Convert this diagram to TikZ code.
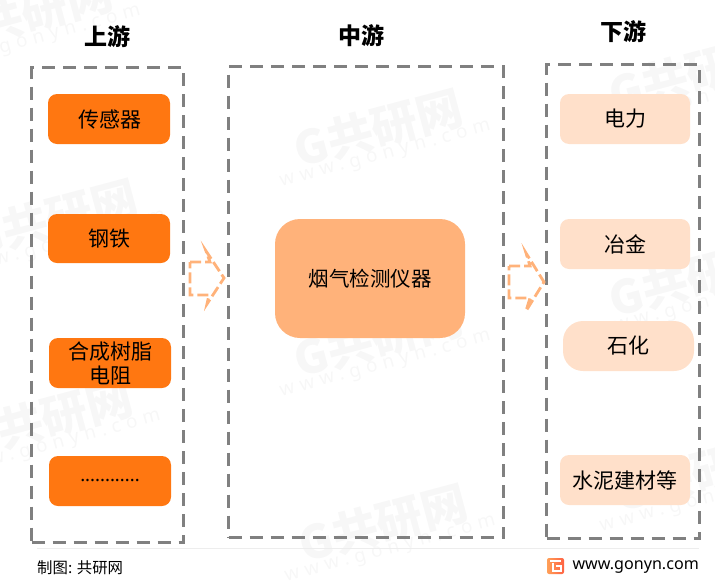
\documentclass[tikz,border=0pt]{standalone}
\usepackage{fontspec}
\setmainfont{Noto Sans CJK SC}
\newfontfamily\latinfont{Noto Sans}
\definecolor{frameGray}{HTML}{808080}
\definecolor{upOrange}{HTML}{FF7711}
\definecolor{midOrange}{HTML}{FFB27A}
\definecolor{downPeach}{HTML}{FFE0CA}
\definecolor{markGray}{HTML}{F7F7F7}
\tikzset{ frame/.style = { rectangle % dashed column
, draw = frameGray
, line width = 3pt
, dash pattern = on 13pt off 8pt
}
, tag/.style = { rectangle % small box
, rounded corners = 9pt
, align = center
, inner sep = 0pt
, font = \fontsize{21}{25}\selectfont
}
, head/.style = { font = \fontsize{23}{27}\selectfont\bfseries
}
, flow/.style = { draw = midOrange % hollow arrow
, line width = 2.8pt
, dash pattern = on 11pt off 4pt
}
, wmark/.style = { text = markGray
, rotate = 15
, align = center
, inner sep = 0pt
}
}
\def\tagbox(#1,#2,#3,#4)#5#6#7{% corners, name, fill, text
\node[tag, fill=#6, minimum width=#3pt-#1pt, minimum height=#4pt-#2pt] (#5)
  at ({(#1+#3)/2},{(#2+#4)/2}) {#7};
}
\def\wm(#1,#2)#3{% watermark
\node[wmark] (#3) at (#1,#2) {{\fontsize{46}{48}\selectfont\bfseries G共研网}\\[-2pt]
  {\latinfont\fontsize{19}{22}\selectfont\addfontfeature{LetterSpace=30}www.gonyn.com}};
}
\begin{document}
\begin{tikzpicture}[x=1pt, y=-1pt]
\useasboundingbox (0,0) rectangle (715,584);

\wm(30,20){wma}
\wm(55,225){wmb}
\wm(380,135){wmc}
\wm(380,345){wmd}
\wm(50,425){wme}
\wm(385,530){wmf}
\wm(695,80){wmg}
\wm(695,285){wmh}
\wm(700,480){wmi}

\node[head] (hup) at (107,36.5) {上游};
\node[head] (hmid) at (361,35.5) {中游};
\node[head] (hdown) at (623,32) {下游};

\node[frame, minimum width=152pt, minimum height=475pt] (upframe) at (107.5,305) {};
\node[frame, minimum width=275pt, minimum height=471pt] (midframe) at (366,302) {};
\node[frame, minimum width=153pt, minimum height=474pt] (downframe) at (623,301.5) {};

\tagbox(48,94,170,144){up1}{upOrange}{\hspace*{2pt}传感器}
\tagbox(48,214,170,263){up2}{upOrange}{钢铁}
\tagbox(49,338,171,388){up3}{upOrange}{合成树脂\\[-1pt]电阻}
\tagbox(49,456,171,506){up4}{upOrange}{{\latinfont\fontsize{18.5}{20}\selectfont ............}}

\node[tag, fill=midOrange, rounded corners=25pt, minimum width=190pt, minimum height=119pt] (mid) at (370,278.5) {\fontsize{20.5}{24}\selectfont 烟气检测仪器};

\tagbox(560,94,690,144){down1}{downPeach}{电力}
\tagbox(560,219,690,269){down2}{downPeach}{冶金}
\node[tag, fill=downPeach, rounded corners=20pt, minimum width=131pt, minimum height=50pt] (down3) at (628.5,346) {石化};
\tagbox(560,455,690,505){down4}{downPeach}{水泥建材等}

\draw[flow] (190,262)--(210,262)--(206,251)--(224,278)--(207,304)--(209,295)--(190,295)--cycle;
\draw[flow] (509,266)--(530,266)--(526,253)--(544,282)--(526,311)--(530,298)--(509,298)--cycle;

\draw[line width=1.5pt, draw=black!7] (37,548.5)--(699,548.5);
\node[anchor=west, inner sep=0pt, font=\fontsize{15.4}{18}\selectfont] (src) at (37,568) {制图: 共研网};
\node[anchor=east, inner sep=0pt, font=\latinfont\fontsize{16.1}{19}\selectfont] (site) at (699,567.5) {www.gonyn.com};
\shade[left color=upOrange!70, right color=red!45!midOrange, rounded corners=2pt] (547,558) rectangle (564,574);
\draw[white, line width=2pt] (550,561)--(561,561) (556,566)--(561,566)--(561,571)--(553,571)--(553,563);
\end{tikzpicture}
\end{document}
